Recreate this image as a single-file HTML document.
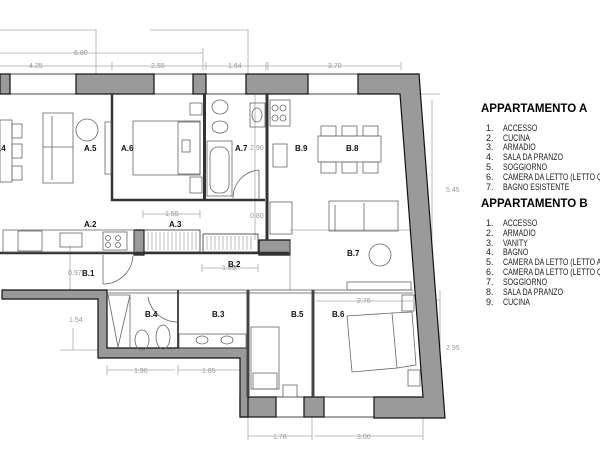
<!DOCTYPE html>
<html><head><meta charset="utf-8"><style>
body{margin:0;background:#fff;}
svg{display:block;font-family:"Liberation Sans",sans-serif;}
.d{stroke:#aaa;stroke-width:0.8;fill:none}
.dt{fill:#999;font-size:7px}
.lb{font-size:8px;font-weight:bold;fill:#111}
.f{stroke:#666;stroke-width:0.8;fill:none}
.w{fill:#9a9a9a;stroke:#111;stroke-width:1.2}
.li{font-family:"Liberation Sans Narrow","Liberation Sans",sans-serif;font-size:9px;fill:#222}
</style></head><body>
<svg width="600" height="460" viewBox="0 0 600 460">
<g class="d">
<path d="M0 30H96V74M150 30H248V74M0 53H203M0 66H400M112 62V70M203 48V70M206 62V70M266 62V70M268 62V70M401 62V70"/>
<path d="M420 94H440M432 100V300M430 300H440"/>
<path d="M70 246V300M73 328V350M60 350H98"/>
<path d="M143 214H200M143 210V218M200 210V218"/>
<path d="M202 268H258M202 264V272M258 264V272"/>
<path d="M255 95V240"/>
<path d="M107 370H175M107 365V375M178 370H245M178 365V375M248 380V440M312 380V440M423 380V440M248 436H312M314 436H423"/>
<path d="M316 301H413M440 290V418"/>
</g>
<g class="dt">
<text x="74" y="55">6.80</text>
<text x="29" y="68">4.25</text><text x="151" y="68">2.55</text><text x="228" y="68">1.64</text><text x="328" y="68">3.70</text>
<text x="446" y="192">5.45</text><text x="446" y="350">2.95</text>
<text x="250" y="150">2.90</text><text x="250" y="218">0.80</text>
<text x="165" y="216">1.55</text><text x="222" y="270">1.55</text>
<text x="68" y="275">0.97</text><text x="69" y="322">1.54</text>
<text x="134" y="373">1.90</text><text x="202" y="373">1.85</text>
<text x="273" y="439">1.78</text><text x="357" y="439">3.00</text>
<text x="357" y="303">2.76</text>
</g>
<g class="w">
<rect x="0" y="74" width="10" height="20"/>
<rect x="76" y="74" width="78" height="20"/>
<rect x="193" y="74" width="13" height="20"/>
<rect x="246" y="74" width="62" height="20"/>
<path d="M358 74H419L445 418H374V397H423L400 94H358Z"/>
<rect x="240" y="397" width="36" height="20"/>
<rect x="304" y="397" width="20" height="20"/>
<path d="M2 290H107V348H248V417H240V358H98V299H2Z"/>
<rect x="134" y="230" width="10" height="25"/>
<path d="M259 240H290V255H259Z"/>
</g>
<g stroke="#111" fill="none">
<path d="M10 94H400M0 74H420" stroke-width="0.8"/>
<path d="M112 94V200H265" stroke-width="2.5" stroke="#333"/>
<path d="M204.5 94V200" stroke-width="3" stroke="#333"/>
<path d="M267 94V240" stroke-width="3" stroke="#333"/>
<path d="M0 253H290" stroke-width="2.5" stroke="#333"/>
<path d="M107 290H413M107 293H413" stroke-width="0.8" stroke="#555"/>
<path d="M248 290V397M313 290V397" stroke-width="3" stroke="#444"/>
<path d="M178 290V348" stroke-width="1.5"/>
<path d="M276 397H304M324 397H374M276 417H304M324 417H374" stroke-width="0.8"/>
<path d="M290 240V290M290 230H410" stroke-width="0.6" stroke="#777"/>
</g>
<g class="f">
<rect x="3" y="230" width="131" height="22"/>
<rect x="18" y="231" width="24" height="20"/>
<rect x="60" y="233" width="22" height="14"/>
<rect x="103" y="232" width="24" height="18"/>
<circle cx="108" cy="238" r="2.5"/><circle cx="118" cy="238" r="2.5"/><circle cx="108" cy="245" r="2.5"/><circle cx="118" cy="245" r="2.5"/>
<rect x="144" y="230" width="56" height="22" stroke="#333"/>
<path d="M148 232V250M152 232V250M156 232V250M160 232V250M164 232V250M168 232V250M172 232V250M176 232V250M180 232V250M184 232V250M188 232V250M192 232V250M196 232V250" stroke="#aaa"/>
<rect x="203" y="234" width="55" height="18" stroke="#333"/>
<path d="M207 236V250M211 236V250M215 236V250M219 236V250M223 236V250M227 236V250M231 236V250M235 236V250M239 236V250M243 236V250M247 236V250M251 236V250" stroke="#aaa"/>
<rect x="0" y="120" width="12" height="62"/>
<rect x="12" y="124" width="10" height="14"/><rect x="12" y="144" width="10" height="14"/><rect x="12" y="166" width="10" height="14"/>
<rect x="43" y="113" width="30" height="70"/><path d="M52 116V180M43 147H73"/>
<circle cx="87" cy="130" r="11"/>
<rect x="105" y="122" width="6" height="52"/>
<rect x="133" y="121" width="67" height="54"/><rect x="178" y="122" width="22" height="52"/>
<rect x="182" y="140" width="8" height="12"/>
<rect x="190" y="103" width="12" height="12"/><rect x="190" y="177" width="12" height="16"/>
<ellipse cx="220" cy="107" rx="8" ry="7"/><ellipse cx="220" cy="127" rx="8" ry="6"/>
<rect x="207" y="141" width="25" height="55"/><rect x="210" y="147" width="19" height="46" rx="8"/>
<rect x="250" y="103" width="15" height="24"/><ellipse cx="257" cy="115" rx="5" ry="7"/>
<path d="M259 170V200M259 170A28 28 0 0 0 233 198"/>
<rect x="270" y="100" width="20" height="26"/>
<circle cx="275" cy="108" r="3"/><circle cx="283" cy="108" r="3"/><circle cx="275" cy="118" r="3"/><circle cx="283" cy="118" r="3"/>
<rect x="273" y="144" width="14" height="23"/>
<rect x="270" y="202" width="22" height="32"/>
<rect x="318" y="136" width="63" height="26"/>
<rect x="321" y="126" width="15" height="10"/><rect x="342" y="126" width="15" height="10"/><rect x="363" y="126" width="15" height="10"/>
<rect x="321" y="162" width="15" height="11"/><rect x="342" y="162" width="15" height="11"/><rect x="363" y="162" width="15" height="11"/>
<rect x="329" y="201" width="69" height="30"/><path d="M335 205V231M364 203V231"/>
<circle cx="380" cy="255" r="11"/>
<rect x="347" y="282" width="64" height="8"/>
<path d="M103 255V284M103 284A30 30 0 0 0 133 256"/>
<path d="M108 295L118 347L130 295M108 295H130V347"/>
<ellipse cx="142" cy="340" rx="7" ry="10"/><ellipse cx="163" cy="337" rx="7" ry="12"/>
<path d="M148 297A30 30 0 0 0 177 322"/>
<rect x="179" y="334" width="67" height="14"/>
<ellipse cx="202" cy="340" rx="6" ry="4"/><ellipse cx="227" cy="340" rx="6" ry="4"/>
<rect x="251" y="327" width="28" height="62"/><rect x="253" y="373" width="24" height="16"/>
<rect x="283" y="385" width="14" height="12"/>
<path d="M347 316L392 313L397 368L352 372Z"/>
<path d="M392 313L412 312L416 365L397 368"/>
<rect x="402" y="295" width="12" height="16"/><rect x="408" y="370" width="12" height="16"/>
</g>
<g class="lb">
<text x="-1" y="151">.4</text><text x="84" y="151">A.5</text><text x="121" y="151">A.6</text><text x="235" y="151">A.7</text>
<text x="295" y="151">B.9</text><text x="346" y="151">B.8</text>
<text x="84" y="227">A.2</text><text x="169" y="227">A.3</text>
<text x="82" y="276">B.1</text><text x="228" y="267">B.2</text><text x="347" y="256">B.7</text>
<text x="145" y="317">B.4</text><text x="212" y="317">B.3</text><text x="291" y="317">B.5</text><text x="332" y="317">B.6</text>
</g>
<g>
<text x="481" y="112" style="font-size:11.5px;font-weight:bold;fill:#000">APPARTAMENTO A</text>
<text x="481" y="207" style="font-size:11.5px;font-weight:bold;fill:#000">APPARTAMENTO B</text>
</g>
<g class="li">
<text x="486" y="131">1.</text><text x="486" y="141">2.</text><text x="486" y="150">3.</text><text x="486" y="160">4.</text><text x="486" y="170">5.</text><text x="486" y="180">6.</text><text x="486" y="190">7.</text>
<text x="486" y="226">1.</text><text x="486" y="236">2.</text><text x="486" y="246">3.</text><text x="486" y="255">4.</text><text x="486" y="265">5.</text><text x="486" y="275">6.</text><text x="486" y="285">7.</text><text x="486" y="295">8.</text><text x="486" y="305">9.</text>
</g>
<g class="li" transform="translate(503,0) scale(0.78,1)">
<text x="0" y="131">ACCESSO</text>
<text x="0" y="141">CUCINA</text>
<text x="0" y="150">ARMADIO</text>
<text x="0" y="160">SALA  DA  PRANZO</text>
<text x="0" y="170">SOGGIORNO</text>
<text x="0" y="180">CAMERA  DA  LETTO  (LETTO  QUEEN)</text>
<text x="0" y="190">BAGNO  ESISTENTE</text>
<text x="0" y="226">ACCESSO</text>
<text x="0" y="236">ARMADIO</text>
<text x="0" y="246">VANITY</text>
<text x="0" y="255">BAGNO</text>
<text x="0" y="265">CAMERA  DA  LETTO  (LETTO  A  CASTELLO)</text>
<text x="0" y="275">CAMERA  DA  LETTO  (LETTO  QUEEN)</text>
<text x="0" y="285">SOGGIORNO</text>
<text x="0" y="295">SALA  DA  PRANZO</text>
<text x="0" y="305">CUCINA</text>
</g>
</svg>
</body></html>
